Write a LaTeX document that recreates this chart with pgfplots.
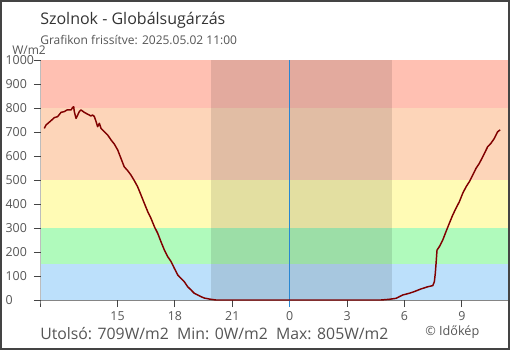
\documentclass[border=0pt]{standalone}
\usepackage{pgfplots}
\pgfplotsset{compat=1.18}
\usepackage{fontspec}
\setmainfont{Open Sans}
\definecolor{bandred}{RGB}{255,192,178}
\definecolor{bandpeach}{RGB}{253,213,185}
\definecolor{bandyellow}{RGB}{255,251,181}
\definecolor{bandgreen}{RGB}{176,250,188}
\definecolor{bandblue}{RGB}{188,224,251}
\definecolor{curvered}{RGB}{128,0,0}
\definecolor{midblue}{RGB}{40,135,210}
\definecolor{axgray}{RGB}{68,68,68}
\definecolor{txtgray}{RGB}{85,85,85}
\definecolor{titlegray}{RGB}{51,51,51}
\begin{document}
\begin{tikzpicture}
\useasboundingbox (0,0) rectangle (382.5pt,262.5pt);
\draw[axgray, line width=1.2pt] (0.6pt,0.6pt) rectangle (381.9pt,261.9pt);
\begin{axis}[
  at={(30.75pt,37.5pt)}, anchor=south west,
  scale only axis, width=350.25pt, height=180pt,
  xmin=11, xmax=35.41, ymin=0, ymax=1000,
  axis x line*=bottom, axis y line*=left,
  axis line style={draw=none},
  tick align=outside, major tick length=5.25pt,
  tick style={axgray, line width=0.75pt},
  xtick={15,18,21,24,27,30,33},
  xticklabels={15,18,21,0,3,6,9},
  ytick={0,100,...,1000},
  /pgf/number format/assume math mode=true,
  /pgf/number format/1000 sep={},
  ticklabel style={font=\fontsize{9.3pt}{11pt}\selectfont, text=txtgray},
  yticklabel style={anchor=west, inner sep=0pt, xshift=-21.5pt},
  xticklabel style={inner sep=0pt, yshift=-3pt},
  clip=false,
]
\fill[bandblue] (axis cs:11,0) rectangle (axis cs:35.41,150);
\fill[bandgreen] (axis cs:11,150) rectangle (axis cs:35.41,300);
\fill[bandyellow] (axis cs:11,300) rectangle (axis cs:35.41,500);
\fill[bandpeach] (axis cs:11,500) rectangle (axis cs:35.41,800);
\fill[bandred] (axis cs:11,800) rectangle (axis cs:35.41,1000);
\fill[black, opacity=0.11] (axis cs:19.89,0) rectangle (axis cs:29.33,1000);
\draw[axgray, line width=0.75pt] (axis cs:11,1000) -- (axis cs:11,0) -- ++(0pt,-5.25pt);
\draw[axgray, line width=0.75pt] (axis cs:35.41,0) -- (axis cs:11,0) -- ++(-5.25pt,0pt);
\draw[midblue, line width=0.9pt] (axis cs:24,1000) -- (axis cs:24,0) -- ++(0pt,-5.25pt);
\addplot[curvered, line width=1.1pt, line join=round] coordinates {
(11.17,715) (11.26,729) (11.52,747) (11.70,760) (11.87,764) (12.05,782)
(12.22,785) (12.36,792) (12.57,792) (12.66,803) (12.71,805) (12.74,785)
(12.83,757) (12.88,764) (13.00,785) (13.09,792) (13.26,782) (13.44,774)
(13.61,767) (13.70,771) (13.79,764) (13.88,743) (13.96,722) (14.05,736)
(14.14,715) (14.31,701) (14.49,687) (14.66,667) (14.83,650) (15.01,625)
(15.18,590) (15.35,555) (15.53,539) (15.70,521) (15.88,497) (16.05,472)
(16.23,437) (16.40,403) (16.58,368) (16.75,340) (16.93,305) (17.10,278)
(17.27,243) (17.45,208) (17.62,181) (17.80,160) (17.97,132) (18.15,104)
(18.32,90) (18.49,76) (18.67,55) (18.84,42) (19.01,28) (19.19,21)
(19.36,14) (19.54,8) (19.80,4) (20.15,0) (24.00,0) (28.77,0)
(29.21,3) (29.56,7) (29.73,14) (29.91,21) (30.25,28) (30.51,35)
(30.86,46) (31.21,55) (31.48,60) (31.56,76) (31.61,111) (31.65,153)
(31.70,208) (31.82,222) (32.00,250) (32.17,285) (32.34,319) (32.52,354)
(32.69,382) (32.87,410) (33.04,444) (33.22,472) (33.39,493) (33.57,521)
(33.74,549) (33.91,569) (34.09,597) (34.35,639) (34.52,653) (34.70,674)
(34.87,701) (35.00,709)
};
\end{axis}
\node[anchor=base west, inner sep=0pt, text=titlegray, font=\fontsize{12pt}{14pt}\selectfont] at (30pt,243.75pt) {Szolnok - Globálsugárzás};
\node[anchor=base west, inner sep=0pt, text=txtgray, font=\fontsize{9pt}{11pt}\selectfont] at (30pt,229.1pt) {Grafikon frissítve: 2025.05.02 11:00};
\node[anchor=base west, inner sep=0pt, text=txtgray, font=\fontsize{9pt}{11pt}\selectfont] at (9pt,221.6pt) {W/m2};
\node[anchor=base west, inner sep=0pt, text=txtgray, font=\fontsize{11.85pt}{13pt}\selectfont] at (30pt,8pt) {Utolsó: 709W/m2\ \ Min: 0W/m2\ \ Max: 805W/m2};
\node[anchor=base west, inner sep=0pt, text=txtgray, font=\fontsize{9.5pt}{11pt}\selectfont] at (318.75pt,11.25pt) {© Időkép};
\end{tikzpicture}
\end{document}
